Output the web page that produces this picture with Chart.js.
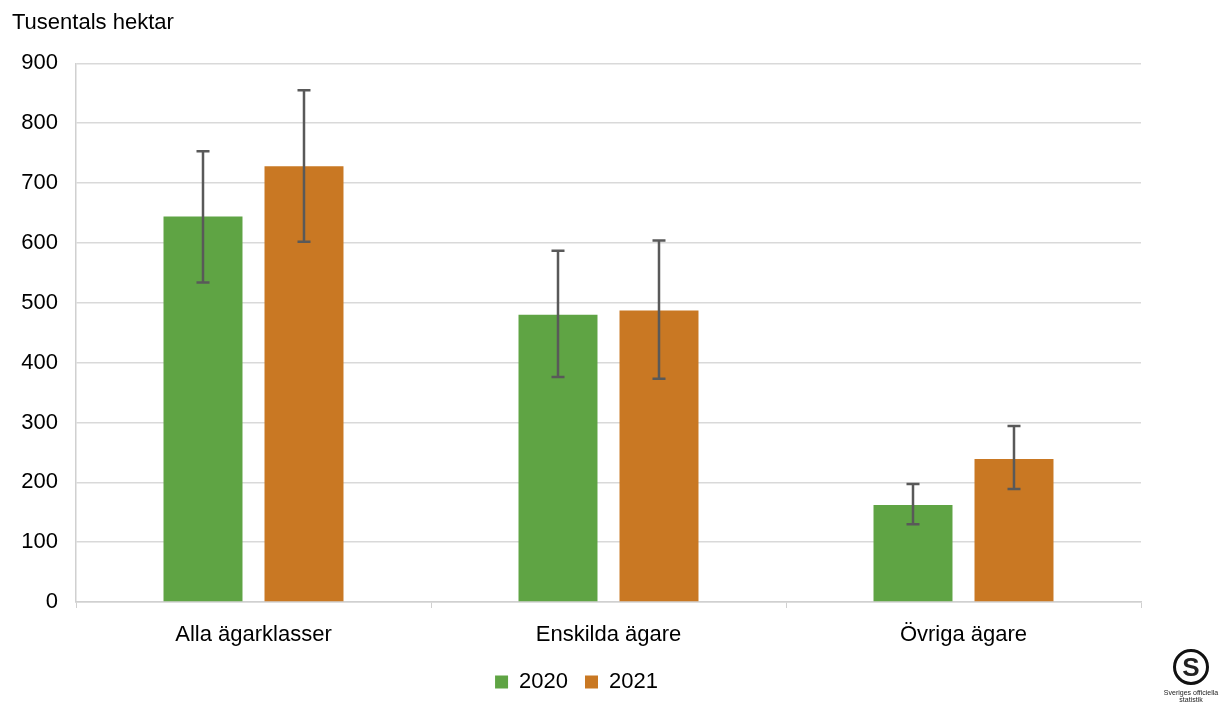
<!DOCTYPE html>
<html>
<head>
<meta charset="utf-8">
<script src="https://cdn.jsdelivr.net/npm/chart.js@4"></script>
<style>
  html, body { margin: 0; padding: 0; background: #fff; }
  #wrap { position: relative; width: 1225px; height: 709px; }
  #logo { position: absolute; left: 1161px; top: 649px; width: 60px; text-align: center;
          font-family: "Liberation Sans", Arial, sans-serif; color: #222; }
  #logo .ring { width: 30px; height: 30px; margin: 0 auto; border: 3px solid #111; border-radius: 50%;
                font: bold 26px "Liberation Sans", Arial, sans-serif; line-height: 30px; }
  #logo .txt { font-size: 7px; line-height: 7px; margin-top: 4px; white-space: nowrap; }
</style>
</head>
<body>
<div id="wrap">
  <canvas id="chart" width="1225" height="709"></canvas>
  <div id="logo"><div class="ring">S</div><div class="txt">Sveriges officiella<br>statistik</div></div>
</div>
<script>
const categories = ['Alla ägarklasser', 'Enskilda ägare', 'Övriga ägare'];
const years = ['2020', '2021'];
const values2020 = [644, 480, 162];
const values2021 = [728, 487, 239];
const low2020 = [534, 376, 130];
const high2020 = [753, 587, 197];
const low2021 = [602, 373, 189];
const high2021 = [855, 604, 294];
const yTicks = [0, 100, 200, 300, 400, 500, 600, 700, 800, 900];

const FONT = '"Liberation Sans", Arial, sans-serif';
const errLow = [low2020, low2021];
const errHigh = [high2020, high2021];

// error bars drawn from the y scale
const errorBars = {
    id: 'errorBars',
    afterDatasetsDraw(chart) {
        const ctx = chart.ctx;
        const y = chart.scales.y;
        ctx.save();
        ctx.strokeStyle = '#595959';
        ctx.lineWidth = 2.5;
        chart.data.datasets.forEach((ds, di) => {
            const meta = chart.getDatasetMeta(di);
            meta.data.forEach((bar, i) => {
                const top = y.getPixelForValue(errHigh[di][i]);
                const bot = y.getPixelForValue(errLow[di][i]);
                ctx.beginPath();
                ctx.moveTo(bar.x, top);
                ctx.lineTo(bar.x, bot);
                ctx.moveTo(bar.x - 6.5, top);
                ctx.lineTo(bar.x + 6.5, top);
                ctx.moveTo(bar.x - 6.5, bot);
                ctx.lineTo(bar.x + 6.5, bot);
                ctx.stroke();
            });
        });
        ctx.restore();
    }
};

const ctx = document.getElementById('chart').getContext('2d');
const chart = new Chart(ctx, {
    type: 'bar',
    data: {
        labels: categories,
        datasets: [
            {
                label: years[0],
                data: values2020,
                backgroundColor: '#5fa444',
                categoryPercentage: 0.569,
                barPercentage: 0.782,
            },
            {
                label: years[1],
                data: values2021,
                backgroundColor: '#c97823',
                categoryPercentage: 0.569,
                barPercentage: 0.782,
            },
        ],
    },
    options: {
        responsive: false,
        animation: false,
        layout: {
            padding: { left: 12, right: 84, top: 0, bottom: 6 },
        },
        plugins: {
            title: {
                display: true,
                text: 'Tusentals hektar',
                align: 'start',
                color: '#000',
                font: { family: FONT, size: 22, weight: 'normal' },
                padding: { top: 10, bottom: 27 },
            },
            legend: {
                position: 'bottom',
                labels: {
                    color: '#000',
                    font: { family: FONT, size: 22 },
                    boxWidth: 13,
                    boxHeight: 13,
                    padding: 17,
                },
            },
            tooltip: { enabled: false },
        },
        scales: {
            x: {
                grid: {
                    drawOnChartArea: false,
                    drawTicks: true,
                    tickLength: 6,
                    color: '#d0d0d0',
                    offset: true,
                },
                border: { color: '#d0d0d0', width: 1.5 },
                ticks: {
                    color: '#000',
                    font: { family: FONT, size: 22 },
                    padding: 14,
                },
                afterFit(scale) { scale.height = 52; },
            },
            y: {
                min: 0,
                max: 900,
                afterBuildTicks(scale) { scale.ticks = yTicks.map(v => ({ value: v })); },
                grid: {
                    color: '#d9d9d9',
                    lineWidth: 1.5,
                    drawTicks: false,
                },
                border: { color: '#d0d0d0', width: 1.5 },
                ticks: {
                    color: '#000',
                    font: { family: FONT, size: 22 },
                    padding: 18,
                },
                afterFit(scale) { scale.width = 64; },
            },
        },
    },
    plugins: [errorBars],
});
</script>
</body>
</html>
